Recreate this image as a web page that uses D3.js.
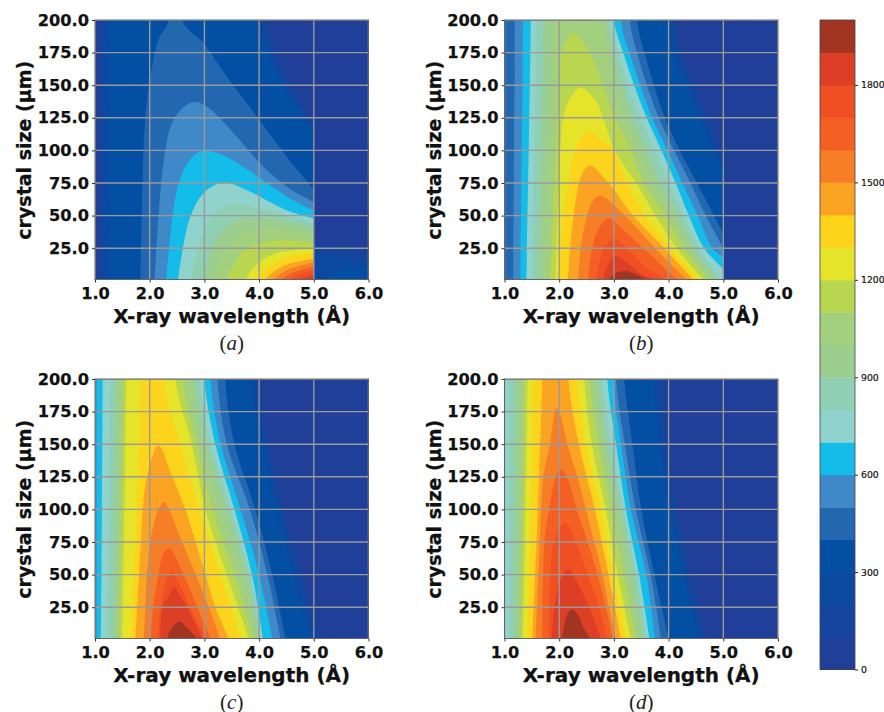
<!DOCTYPE html>
<html>
<head>
<meta charset="utf-8">
<script src="https://cdn.jsdelivr.net/npm/d3@7"></script>
<style>
    body { margin: 0; background: #fff; }
    text { font-family: "DejaVu Sans"; }
</style>
</head>
<body>
<div id="wrapper"></div>
<script>
// band colours, one per 100 counts from 0 to 2000
const bandColors = ["#1f3f99", "#15449d", "#0b49a1", "#034fa3", "#2367b1", "#4089c9", "#14bcea", "#90d3cc", "#8fcfb4", "#9bce8f",
    "#a3d07f", "#b8d650", "#e6e42a", "#fdd41c", "#fba323", "#f67e26", "#f46024", "#f04e23", "#dc3e26", "#a13521"];
const colorTicks = [0, 300, 600, 900, 1200, 1500, 1800];
const wavelengthTicks = [1, 2, 3, 4, 5, 6];
const sizeTicks = [25, 50, 75, 100, 125, 150, 175, 200];

// contour outlines: [level, [[wavelength, size], ...]]
const panelA = [
    [100, [[1.08, 1], [1.08, 200], [4.15, 200], [4.6, 150], [5, 120]]],
    [200, [[1.16, 1], [1.16, 200], [4.05, 200], [4.5, 150], [5, 116]]],
    [300, [[1.25, 1], [1.25, 200], [3.97, 200], [4.4, 154], [5, 113]]],
    [100, [[5, 30], [5.5, 26], [6, 22]]],
    [200, [[5, 22], [5.5, 18], [6, 14]]],
    [300, [[5.2, 1], [5.4, 7], [6, 8]]],
    [400, [[1.83, 1], [1.86, 62], [1.92, 126], [2.01, 156], [2.16, 185], [2.35, 200], [2.59, 200], [2.99, 182], [3.41, 156.5], [3.96, 126], [4.51, 95], [5, 70]]],
    [500, [[2.09, 1], [2.16, 49], [2.26, 93], [2.38, 118], [2.56, 131], [2.8, 137], [3.05, 133.5], [3.54, 113], [4.02, 90], [4.51, 72], [5, 60.5]]],
    [600, [[2.3, 1], [2.38, 36], [2.47, 64], [2.62, 85], [2.87, 98], [3.08, 99.5], [3.41, 95], [3.9, 82], [4.51, 64.5], [5, 54]]],
    [700, [[2.52, 1], [2.59, 21], [2.74, 49], [2.93, 64.5], [3.17, 73], [3.41, 75], [3.78, 69.5], [4.51, 54], [5, 48]]],
    [800, [[2.76, 1], [2.87, 23.5], [3.05, 44], [3.29, 55.5], [3.6, 59], [4.02, 55.5], [4.51, 50.5], [5, 44]]],
    [900, [[2.99, 1], [3.14, 26], [3.41, 41.5], [3.72, 48], [4.15, 48], [4.57, 45], [5, 40]]],
    [1000, [[3.17, 1], [3.35, 23.5], [3.66, 35], [4.02, 40], [4.51, 39], [5, 35]]],
    [1100, [[3.41, 1], [3.54, 13], [3.78, 25], [4.15, 30], [4.57, 31], [5, 29]]],
    [1200, [[3.75, 1], [3.9, 10], [4.1, 17], [4.4, 22], [5, 24.5]]],
    [1300, [[3.97, 1], [4.1, 8], [4.3, 14], [4.6, 19], [5, 21]]],
    [1400, [[4.12, 1], [4.3, 8], [4.55, 13], [5, 17]]],
    [1500, [[4.25, 1], [4.45, 7], [4.7, 11], [5, 14]]],
    [1600, [[4.4, 1], [4.6, 6], [5, 11]]],
    [1700, [[4.55, 1], [4.75, 5], [5, 8]]],
    [1800, [[4.75, 1], [5, 5]]],
    [1900, [[4.92, 1], [5, 2]]],
];

const panelB = [
    [100, [[0.9, 1], [0.9, 200], [4.14, 200], [4.23, 175], [4.47, 150], [4.72, 125], [4.96, 100], [5, 94]]],
    [200, [[0.9, 1], [0.9, 200], [4.07, 200], [4.16, 175], [4.4, 150], [4.65, 125], [4.89, 100], [5, 90]]],
    [300, [[0.9, 1], [0.9, 200], [4, 200], [4.09, 175], [4.33, 150], [4.58, 125], [4.82, 100], [5, 85]]],
    [400, [[0.9, 1], [0.9, 200], [3.42, 200], [3.56, 175], [3.73, 150], [3.93, 125], [4.2, 100], [4.52, 75], [4.83, 50], [5, 36]]],
    [500, [[1.16, 1], [1.19, 200], [3.29, 200], [3.42, 175], [3.6, 150], [3.82, 125], [4.1, 100], [4.4, 75], [4.68, 50], [5, 25]]],
    [600, [[1.29, 1], [1.34, 200], [3.12, 200], [3.28, 175], [3.48, 150], [3.7, 125], [3.98, 100], [4.25, 75], [4.53, 50], [4.8, 25], [5, 18]]],
    [700, [[1.4, 1], [1.48, 200], [3, 200], [3.17, 175], [3.37, 150], [3.6, 125], [3.87, 100], [4.13, 75], [4.37, 50], [4.65, 25], [5, 9]]],
    [800, [[1.5, 1], [1.59, 200], [2.93, 200], [3.08, 175], [3.25, 150], [3.48, 125], [3.75, 100], [4, 75], [4.27, 50], [4.55, 25], [4.97, 1]]],
    [900, [[1.62, 1], [1.72, 200], [2.87, 200], [3, 175], [3.15, 150], [3.35, 125], [3.6, 100], [3.85, 75], [4.18, 50], [4.47, 25], [4.88, 1]]],
    [1000, [[1.72, 1], [1.9, 200], [2.8, 200], [2.91, 175], [3.02, 150], [3.2, 125], [3.45, 100], [3.7, 75], [4.06, 50], [4.38, 25], [4.82, 1]]],
    [1100, [[1.83, 1], [1.94, 100], [2, 150], [2.04, 175], [2.26, 190], [2.56, 175], [2.8, 150], [3.02, 125], [3.32, 100], [3.54, 75], [3.94, 50], [4.28, 25], [4.72, 1]]],
    [1200, [[1.93, 1], [2.02, 100], [2.07, 125], [2.2, 140], [2.39, 148], [2.7, 136], [2.8, 125], [3.02, 100], [3.41, 75], [3.76, 50], [4.15, 25], [4.63, 1]]],
    [1300, [[2.01, 1], [2.02, 25], [2.07, 50], [2.16, 75], [2.29, 100], [2.52, 114.5], [2.78, 108], [3, 100], [3.24, 75], [3.57, 50], [4.03, 25], [4.54, 1]]],
    [1400, [[2.16, 1], [2.2, 25], [2.28, 55], [2.4, 80], [2.56, 88.5], [2.9, 75], [3.35, 50], [3.92, 25], [4.45, 1]]],
    [1500, [[2.35, 1], [2.38, 20], [2.48, 45], [2.6, 60], [2.74, 65.5], [3.2, 50], [3.75, 25], [4.33, 1]]],
    [1600, [[2.53, 1], [2.58, 20], [2.7, 38], [2.9, 48], [3.15, 40], [3.54, 25], [4.15, 1]]],
    [1700, [[2.68, 1], [2.74, 15], [2.86, 27], [3.02, 32], [3.25, 24], [3.6, 10], [3.97, 1]]],
    [1800, [[2.8, 1], [2.86, 9], [3.02, 19], [3.23, 14], [3.5, 5], [3.78, 1]]],
    [1900, [[2.9, 1], [3, 5], [3.2, 7.5], [3.4, 5], [3.59, 1]]],
];

const panelC = [
    [100, [[0.9, 1], [0.9, 200], [4, 200], [4.2, 150], [4.46, 100], [4.78, 50], [5.12, 1]]],
    [200, [[0.9, 1], [0.9, 200], [3.92, 200], [4.13, 150], [4.38, 100], [4.7, 50], [5.03, 1]]],
    [300, [[0.9, 1], [0.9, 200], [3.84, 200], [4.05, 150], [4.3, 100], [4.62, 50], [4.94, 1]]],
    [400, [[0.9, 1], [0.9, 200], [3.38, 200], [3.55, 150], [3.93, 100], [4.24, 50], [4.48, 1]]],
    [500, [[0.98, 1], [0.98, 200], [3.24, 200], [3.41, 150], [3.83, 100], [4.15, 50], [4.39, 1]]],
    [600, [[1.03, 1], [1.03, 200], [3.11, 200], [3.3, 150], [3.66, 100], [4, 50], [4.24, 1]]],
    [700, [[1.11, 1], [1.14, 200], [3, 200], [3.2, 150], [3.55, 100], [3.87, 50], [4.07, 1]]],
    [800, [[1.22, 1], [1.28, 200], [2.92, 200], [3.12, 150], [3.49, 100], [3.83, 50], [4.05, 1]]],
    [900, [[1.33, 1], [1.38, 200], [2.84, 200], [3.05, 150], [3.42, 100], [3.78, 50], [4.01, 1]]],
    [1000, [[1.4, 1], [1.45, 200], [2.74, 200], [2.95, 150], [3.3, 100], [3.68, 50], [3.95, 1]]],
    [1100, [[1.45, 1], [1.52, 200], [2.6, 200], [2.86, 150], [3.15, 100], [3.55, 50], [3.89, 1]]],
    [1200, [[1.5, 1], [1.57, 200], [2.47, 200], [2.77, 150], [3.02, 100], [3.41, 50], [3.81, 1]]],
    [1300, [[1.65, 1], [1.85, 200], [2.25, 200], [2.56, 150], [2.9, 100], [3.29, 50], [3.66, 1]]],
    [1400, [[1.74, 1], [1.84, 75], [1.87, 100], [1.95, 125], [2.16, 149], [2.41, 125], [2.65, 100], [2.84, 75], [3.02, 50], [3.2, 25], [3.45, 1]]],
    [1500, [[1.89, 1], [1.92, 25], [1.95, 50], [2.01, 75], [2.16, 100], [2.26, 105.6], [2.35, 100], [2.59, 75], [2.84, 50], [3.08, 25], [3.29, 1]]],
    [1600, [[2.02, 1], [2.06, 25], [2.16, 50], [2.26, 67], [2.36, 70], [2.62, 50], [2.87, 25], [3.11, 1]]],
    [1700, [[2.15, 1], [2.2, 25], [2.32, 48], [2.4, 52], [2.55, 42], [2.85, 15], [3.05, 1]]],
    [1800, [[2.2, 1], [2.23, 25], [2.35, 34], [2.44, 40], [2.56, 34], [2.68, 25], [2.96, 1]]],
    [1900, [[2.32, 1], [2.39, 8], [2.54, 14], [2.71, 8], [2.87, 1]]],
];

const panelD = [
    [100, [[0.9, 1], [0.9, 200], [3.93, 200], [3.98, 150], [4.16, 100], [4.41, 50], [4.68, 1]]],
    [200, [[0.9, 1], [0.9, 200], [3.82, 200], [3.9, 150], [4.08, 100], [4.33, 50], [4.6, 1]]],
    [300, [[0.9, 1], [0.9, 200], [3.71, 200], [3.84, 150], [4.02, 100], [4.27, 50], [4.54, 1]]],
    [400, [[0.9, 1], [0.9, 200], [3.19, 200], [3.34, 150], [3.5, 100], [3.74, 50], [4, 1]]],
    [500, [[0.9, 1], [0.9, 200], [3.04, 200], [3.2, 150], [3.4, 100], [3.67, 50], [3.86, 1]]],
    [600, [[0.9, 1], [0.9, 200], [2.98, 200], [3.13, 150], [3.31, 100], [3.59, 50], [3.75, 1]]],
    [700, [[0.9, 1], [0.9, 200], [2.88, 200], [3.04, 150], [3.22, 100], [3.46, 50], [3.65, 1]]],
    [800, [[1.08, 1], [1.08, 200], [2.79, 200], [2.95, 150], [3.17, 100], [3.41, 50], [3.6, 1]]],
    [900, [[1.18, 1], [1.2, 200], [2.72, 200], [2.88, 150], [3.12, 100], [3.35, 50], [3.54, 1]]],
    [1000, [[1.25, 1], [1.3, 200], [2.64, 200], [2.8, 150], [3.05, 100], [3.27, 50], [3.48, 1]]],
    [1100, [[1.3, 1], [1.36, 200], [2.55, 200], [2.72, 150], [2.95, 100], [3.17, 50], [3.4, 1]]],
    [1200, [[1.34, 1], [1.42, 200], [2.46, 200], [2.6, 150], [2.85, 100], [3.07, 50], [3.31, 1]]],
    [1300, [[1.42, 1], [1.52, 200], [2.33, 200], [2.49, 150], [2.76, 100], [2.98, 50], [3.22, 1]]],
    [1400, [[1.51, 1], [1.69, 200], [2.17, 200], [2.36, 150], [2.65, 100], [2.9, 50], [3.13, 1]]],
    [1500, [[1.57, 1], [1.62, 50], [1.66, 90], [1.71, 125], [1.83, 150], [1.92, 175], [1.95, 178], [2, 175], [2.15, 150], [2.33, 125], [2.49, 100], [2.64, 75], [2.79, 50], [2.91, 25], [3.04, 1]]],
    [1600, [[1.69, 1], [1.73, 75], [1.81, 100], [1.94, 125], [2.03, 130.6], [2.15, 124], [2.32, 100], [2.52, 75], [2.7, 50], [2.85, 25], [2.98, 1]]],
    [1700, [[1.81, 1], [1.84, 50], [1.9, 75], [2.11, 90], [2.3, 75], [2.52, 50], [2.73, 25], [2.88, 1]]],
    [1800, [[1.87, 1], [1.91, 25], [2.05, 48], [2.17, 54], [2.3, 46], [2.55, 25], [2.76, 1]]],
    [1900, [[2.04, 1], [2.08, 8], [2.15, 20], [2.24, 23], [2.33, 20], [2.46, 8], [2.57, 1]]],
];

const panels = [
    { id: "a", caption: "a", contours: panelA, left: 95, top: 20 },
    { id: "b", caption: "b", contours: panelB, left: 504.5, top: 20 },
    { id: "c", caption: "c", contours: panelC, left: 95, top: 379 },
    { id: "d", caption: "d", contours: panelD, left: 504.5, top: 379 },
];

const dimensions = {
    width: 884,
    height: 712,
    boundedWidth: 273.5,
    boundedHeight: 259.5,
};

const wrapper = d3.select("#wrapper")
    .append("svg")
        .attr("width", dimensions.width)
        .attr("height", dimensions.height)
        .style("display", "block");

const xScale = d3.scaleLinear().domain([1, 6]).range([0, dimensions.boundedWidth]);
const yScale = d3.scaleLinear().domain([1, 200]).range([dimensions.boundedHeight, 0]);
const colorScale = d3.scaleLinear().domain([0, 2000]).range([669.5, 20]);

const areaGenerator = d3.area()
    .x(dp => xScale(dp[0]))
    .y1(dp => yScale(dp[1]))
    .y0(yScale(1))
    .curve(d3.curveCatmullRom.alpha(0.5));

// where a contour leaves through the top of the plot, send the curve well past the
// clip edge so the spline doesn't round the corner inside the plot
const openTop = outline => outline.flatMap((dp, i) => {
    const next = outline[i + 1];
    if (next && dp[1] === 200 && next[1] === 200) return [dp, [dp[0], 280], [next[0], 280]];
    return [dp];
});

panels.forEach(panel => {
    const bounds = wrapper.append("g")
        .attr("transform", `translate(${panel.left}, ${panel.top})`);

    wrapper.append("clipPath")
        .attr("id", `clip-${panel.id}`)
        .append("rect")
            .attr("width", dimensions.boundedWidth)
            .attr("height", dimensions.boundedHeight);

    const plot = bounds.append("g")
        .attr("clip-path", `url(#clip-${panel.id})`);

    plot.append("rect")
        .attr("width", dimensions.boundedWidth)
        .attr("height", dimensions.boundedHeight)
        .attr("fill", bandColors[0]);

    plot.selectAll("path")
        .data(d3.sort(panel.contours, d => d[0]))
        .join("path")
            .attr("d", d => areaGenerator(openTop(d[1])))
            .attr("fill", d => bandColors[d[0] / 100]);

    // grid on top of the filled contours
    plot.selectAll(".grid-x")
        .data(wavelengthTicks)
        .join("line")
            .attr("class", "grid-x")
            .attr("x1", d => xScale(d))
            .attr("x2", d => xScale(d))
            .attr("y2", dimensions.boundedHeight)
            .attr("stroke", "#9a9a9a")
            .attr("stroke-width", 1.4);

    plot.selectAll(".grid-y")
        .data(sizeTicks)
        .join("line")
            .attr("class", "grid-y")
            .attr("y1", d => yScale(d))
            .attr("y2", d => yScale(d))
            .attr("x2", dimensions.boundedWidth)
            .attr("stroke", "#9a9a9a")
            .attr("stroke-width", 1.4);

    bounds.append("rect")
        .attr("width", dimensions.boundedWidth)
        .attr("height", dimensions.boundedHeight)
        .attr("fill", "none")
        .attr("stroke", "#666")
        .attr("stroke-width", 1);

    const xAxis = bounds.append("g")
        .attr("transform", `translate(0, ${dimensions.boundedHeight})`)
        .call(d3.axisBottom(xScale).tickValues(wavelengthTicks).tickFormat(d3.format(".1f")).tickSize(3).tickPadding(5));

    const yAxis = bounds.append("g")
        .call(d3.axisLeft(yScale).tickValues(sizeTicks).tickFormat(d3.format(".1f")).tickSize(3).tickPadding(3));

    [xAxis, yAxis].forEach(axis => {
        axis.select(".domain").remove();
        axis.selectAll("line").attr("stroke", "#333");
        axis.selectAll("text")
            .attr("fill", "#111")
            .attr("stroke", "#111")
            .attr("stroke-width", 0.25)
            .style("font-family", "DejaVu Sans")
            .style("font-size", "16.2px")
            .style("font-weight", "bold");
    });

    bounds.append("text")
        .attr("x", dimensions.boundedWidth / 2)
        .attr("y", dimensions.boundedHeight + 43)
        .attr("text-anchor", "middle")
        .attr("fill", "#111")
        .attr("stroke", "#111")
        .attr("stroke-width", 0.25)
        .style("font-size", "20px")
        .style("font-weight", "bold")
        .text("X-ray wavelength (Å)");

    bounds.append("text")
        .attr("transform", `translate(-64, ${dimensions.boundedHeight / 2 + 20 - 19.5}) rotate(-90)`)
        .attr("text-anchor", "middle")
        .attr("fill", "#111")
        .attr("stroke", "#111")
        .attr("stroke-width", 0.25)
        .style("font-size", "19px")
        .style("font-weight", "bold")
        .text("crystal size (μm)");

    const caption = bounds.append("text")
        .attr("x", dimensions.boundedWidth / 2)
        .attr("y", dimensions.boundedHeight + 70)
        .attr("text-anchor", "middle")
        .attr("fill", "#222")
        .style("font-family", "Liberation Serif")
        .style("font-size", "21px");
    caption.append("tspan").text("(");
    caption.append("tspan").style("font-style", "italic").text(panel.caption);
    caption.append("tspan").text(")");
});

// colour bar
const colorBar = wrapper.append("g");

colorBar.selectAll("rect")
    .data(bandColors)
    .join("rect")
        .attr("x", 820)
        .attr("width", 35)
        .attr("y", (d, i) => colorScale((i + 1) * 100))
        .attr("height", (d, i) => colorScale(i * 100) - colorScale((i + 1) * 100) + 0.5)
        .attr("fill", d => d);

colorBar.append("rect")
    .attr("x", 820)
    .attr("y", colorScale(2000))
    .attr("width", 35)
    .attr("height", colorScale(0) - colorScale(2000))
    .attr("fill", "none")
    .attr("stroke", "#444")
    .attr("stroke-width", 0.8);

const colorAxis = colorBar.append("g")
    .attr("transform", "translate(855, 0)")
    .call(d3.axisRight(colorScale).tickValues(colorTicks).tickFormat(d3.format("d")).tickSize(3).tickPadding(3));

colorAxis.select(".domain").remove();
colorAxis.selectAll("line").attr("stroke", "#222");
colorAxis.selectAll("text")
    .attr("fill", "#111")
    .attr("stroke", "#111")
    .attr("stroke-width", 0.2)
    .style("font-family", "DejaVu Sans")
    .style("font-size", "9.3px");
</script>
</body>
</html>
